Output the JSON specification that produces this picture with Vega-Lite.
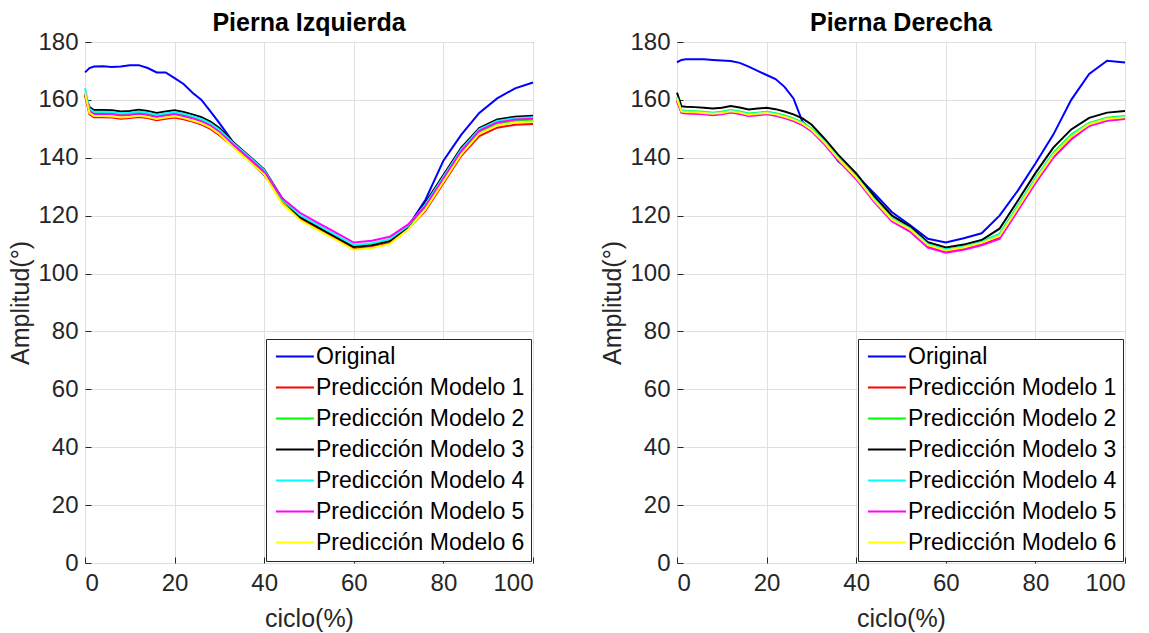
{
  "$schema": "https://vega.github.io/schema/vega-lite/v6.json",
  "background": "white",
  "padding": {"left": 8, "top": 10, "right": 0, "bottom": 0},
  "spacing": 62,
  "config": {
    "font": "Liberation Sans",
    "view": {"stroke": "#262626", "strokeWidth": 1},
    "axis": {
      "labelFont": "Liberation Sans", "labelFontSize": 24, "labelColor": "#262626",
      "titleFont": "Liberation Sans", "titleFontSize": 25, "titleFontWeight": "normal", "titleColor": "#262626",
      "domain": false, "gridColor": "#e0e0e0", "gridWidth": 1, "tickColor": "#262626", "tickSize": -6, "labelPadding": 16
    },
    "axisX": {"titlePadding": 11, "labelPadding": 14},
    "axisY": {"titlePadding": 4, "labelPadding": 13},
    "title": {"font": "Liberation Sans", "fontSize": 25, "fontWeight": "bold", "color": "#000000", "offset": -6, "anchor": "middle"},
    "legend": {
      "orient": "bottom-right", "offset": 2, "fillColor": "white", "strokeColor": "#262626", "padding": 6,
      "labelFont": "Liberation Sans", "labelFontSize": 23, "labelColor": "#000000", "labelOffset": 21, "labelLimit": 0,
      "symbolType": "M-0.8,0H3.2", "symbolSize": 361, "symbolStrokeWidth": 2, "rowPadding": 7, "cornerRadius": 0, "title": null
    }
  },
  "data": {"values": [
    {"p":"L","x":0,"Original":169.5,"Predicción Modelo 1":161.5,"Predicción Modelo 2":162,"Predicción Modelo 3":162,"Predicción Modelo 4":164,"Predicción Modelo 5":162.5,"Predicción Modelo 6":162.5},
    {"p":"L","x":1,"Original":171,"Predicción Modelo 1":155,"Predicción Modelo 2":156.5,"Predicción Modelo 3":157.5,"Predicción Modelo 4":156.9,"Predicción Modelo 5":156.1,"Predicción Modelo 6":155.4},
    {"p":"L","x":2,"Original":171.5,"Predicción Modelo 1":154,"Predicción Modelo 2":155.5,"Predicción Modelo 3":156.5,"Predicción Modelo 4":155.9,"Predicción Modelo 5":155.1,"Predicción Modelo 6":154.4},
    {"p":"L","x":4,"Original":171.6,"Predicción Modelo 1":154,"Predicción Modelo 2":155.5,"Predicción Modelo 3":156.5,"Predicción Modelo 4":155.9,"Predicción Modelo 5":155.1,"Predicción Modelo 6":154.4},
    {"p":"L","x":6,"Original":171.4,"Predicción Modelo 1":153.9,"Predicción Modelo 2":155.4,"Predicción Modelo 3":156.4,"Predicción Modelo 4":155.8,"Predicción Modelo 5":155,"Predicción Modelo 6":154.3},
    {"p":"L","x":8,"Original":171.5,"Predicción Modelo 1":153.5,"Predicción Modelo 2":155,"Predicción Modelo 3":156,"Predicción Modelo 4":155.4,"Predicción Modelo 5":154.6,"Predicción Modelo 6":153.9},
    {"p":"L","x":10,"Original":172,"Predicción Modelo 1":153.7,"Predicción Modelo 2":155.2,"Predicción Modelo 3":156.2,"Predicción Modelo 4":155.6,"Predicción Modelo 5":154.8,"Predicción Modelo 6":154.1},
    {"p":"L","x":12,"Original":172,"Predicción Modelo 1":154.1,"Predicción Modelo 2":155.6,"Predicción Modelo 3":156.6,"Predicción Modelo 4":156,"Predicción Modelo 5":155.2,"Predicción Modelo 6":154.5},
    {"p":"L","x":14,"Original":171,"Predicción Modelo 1":153.7,"Predicción Modelo 2":155.2,"Predicción Modelo 3":156.2,"Predicción Modelo 4":155.6,"Predicción Modelo 5":154.8,"Predicción Modelo 6":154.1},
    {"p":"L","x":16,"Original":169.5,"Predicción Modelo 1":153,"Predicción Modelo 2":154.5,"Predicción Modelo 3":155.5,"Predicción Modelo 4":154.9,"Predicción Modelo 5":154.1,"Predicción Modelo 6":153.4},
    {"p":"L","x":18,"Original":169.5,"Predicción Modelo 1":153.5,"Predicción Modelo 2":155,"Predicción Modelo 3":156,"Predicción Modelo 4":155.4,"Predicción Modelo 5":154.6,"Predicción Modelo 6":153.9},
    {"p":"L","x":20,"Original":167.5,"Predicción Modelo 1":153.9,"Predicción Modelo 2":155.4,"Predicción Modelo 3":156.4,"Predicción Modelo 4":155.8,"Predicción Modelo 5":155,"Predicción Modelo 6":154.3},
    {"p":"L","x":22,"Original":165.5,"Predicción Modelo 1":153.3,"Predicción Modelo 2":154.8,"Predicción Modelo 3":155.8,"Predicción Modelo 4":155.2,"Predicción Modelo 5":154.4,"Predicción Modelo 6":153.7},
    {"p":"L","x":24,"Original":162.5,"Predicción Modelo 1":152.5,"Predicción Modelo 2":154,"Predicción Modelo 3":155,"Predicción Modelo 4":154.4,"Predicción Modelo 5":153.6,"Predicción Modelo 6":152.9},
    {"p":"L","x":26,"Original":160,"Predicción Modelo 1":151.5,"Predicción Modelo 2":153,"Predicción Modelo 3":154,"Predicción Modelo 4":153.4,"Predicción Modelo 5":152.6,"Predicción Modelo 6":151.9},
    {"p":"L","x":28,"Original":156,"Predicción Modelo 1":150,"Predicción Modelo 2":151.5,"Predicción Modelo 3":152.5,"Predicción Modelo 4":151.9,"Predicción Modelo 5":151.1,"Predicción Modelo 6":150.4},
    {"p":"L","x":30,"Original":152,"Predicción Modelo 1":147.8,"Predicción Modelo 2":149.3,"Predicción Modelo 3":150.3,"Predicción Modelo 4":149.7,"Predicción Modelo 5":148.9,"Predicción Modelo 6":148.2},
    {"p":"L","x":33,"Original":145.5,"Predicción Modelo 1":144,"Predicción Modelo 2":144.9,"Predicción Modelo 3":145.5,"Predicción Modelo 4":145.2,"Predicción Modelo 5":144.7,"Predicción Modelo 6":143.7},
    {"p":"L","x":36,"Original":140,"Predicción Modelo 1":140,"Predicción Modelo 2":140.9,"Predicción Modelo 3":141.5,"Predicción Modelo 4":141.2,"Predicción Modelo 5":140.7,"Predicción Modelo 6":139.7},
    {"p":"L","x":40,"Original":134,"Predicción Modelo 1":134.5,"Predicción Modelo 2":135.4,"Predicción Modelo 3":136,"Predicción Modelo 4":135.7,"Predicción Modelo 5":135.2,"Predicción Modelo 6":134.2},
    {"p":"L","x":44,"Original":126,"Predicción Modelo 1":124.5,"Predicción Modelo 2":125.4,"Predicción Modelo 3":126,"Predicción Modelo 4":125.7,"Predicción Modelo 5":126,"Predicción Modelo 6":124.2},
    {"p":"L","x":48,"Original":119.5,"Predicción Modelo 1":118.9,"Predicción Modelo 2":119.8,"Predicción Modelo 3":119.5,"Predicción Modelo 4":120.2,"Predicción Modelo 5":121,"Predicción Modelo 6":118.5},
    {"p":"L","x":52,"Original":116,"Predicción Modelo 1":115.4,"Predicción Modelo 2":116.3,"Predicción Modelo 3":116,"Predicción Modelo 4":116.7,"Predicción Modelo 5":117.5,"Predicción Modelo 6":115},
    {"p":"L","x":56,"Original":112.5,"Predicción Modelo 1":112,"Predicción Modelo 2":112.9,"Predicción Modelo 3":112.6,"Predicción Modelo 4":113.3,"Predicción Modelo 5":114.1,"Predicción Modelo 6":111.6},
    {"p":"L","x":60,"Original":109.5,"Predicción Modelo 1":108.6,"Predicción Modelo 2":109.5,"Predicción Modelo 3":109.2,"Predicción Modelo 4":109.9,"Predicción Modelo 5":110.7,"Predicción Modelo 6":108.2},
    {"p":"L","x":64,"Original":110,"Predicción Modelo 1":109.2,"Predicción Modelo 2":110.1,"Predicción Modelo 3":109.8,"Predicción Modelo 4":110.5,"Predicción Modelo 5":111.3,"Predicción Modelo 6":108.8},
    {"p":"L","x":68,"Original":111.2,"Predicción Modelo 1":110.6,"Predicción Modelo 2":111.5,"Predicción Modelo 3":111.2,"Predicción Modelo 4":111.9,"Predicción Modelo 5":112.7,"Predicción Modelo 6":110.2},
    {"p":"L","x":72,"Original":116,"Predicción Modelo 1":115.2,"Predicción Modelo 2":116,"Predicción Modelo 3":116,"Predicción Modelo 4":116.3,"Predicción Modelo 5":116.8,"Predicción Modelo 6":115},
    {"p":"L","x":76,"Original":125.5,"Predicción Modelo 1":121.7,"Predicción Modelo 2":123,"Predicción Modelo 3":124.5,"Predicción Modelo 4":123.9,"Predicción Modelo 5":123.3,"Predicción Modelo 6":122.2},
    {"p":"L","x":80,"Original":139,"Predicción Modelo 1":131.2,"Predicción Modelo 2":132.5,"Predicción Modelo 3":134,"Predicción Modelo 4":133.4,"Predicción Modelo 5":132.8,"Predicción Modelo 6":131.7},
    {"p":"L","x":84,"Original":148,"Predicción Modelo 1":140.7,"Predicción Modelo 2":142,"Predicción Modelo 3":143.5,"Predicción Modelo 4":142.9,"Predicción Modelo 5":142.3,"Predicción Modelo 6":141.2},
    {"p":"L","x":88,"Original":155.5,"Predicción Modelo 1":147.5,"Predicción Modelo 2":148.8,"Predicción Modelo 3":150.3,"Predicción Modelo 4":149.8,"Predicción Modelo 5":149.3,"Predicción Modelo 6":148.3},
    {"p":"L","x":92,"Original":160.5,"Predicción Modelo 1":150.4,"Predicción Modelo 2":151.7,"Predicción Modelo 3":153.2,"Predicción Modelo 4":152.7,"Predicción Modelo 5":152.2,"Predicción Modelo 6":151.2},
    {"p":"L","x":96,"Original":164,"Predicción Modelo 1":151.4,"Predicción Modelo 2":152.7,"Predicción Modelo 3":154.2,"Predicción Modelo 4":153.7,"Predicción Modelo 5":153.2,"Predicción Modelo 6":152.2},
    {"p":"L","x":100,"Original":166,"Predicción Modelo 1":151.7,"Predicción Modelo 2":153,"Predicción Modelo 3":154.5,"Predicción Modelo 4":154,"Predicción Modelo 5":153.5,"Predicción Modelo 6":152.5},
    {"p":"R","x":0,"Original":173,"Predicción Modelo 1":160,"Predicción Modelo 2":161,"Predicción Modelo 3":162.5,"Predicción Modelo 4":161,"Predicción Modelo 5":159.5,"Predicción Modelo 6":160.5},
    {"p":"R","x":1,"Original":173.8,"Predicción Modelo 1":155.7,"Predicción Modelo 2":156.4,"Predicción Modelo 3":157.8,"Predicción Modelo 4":156.2,"Predicción Modelo 5":155.5,"Predicción Modelo 6":156},
    {"p":"R","x":2,"Original":174,"Predicción Modelo 1":155.5,"Predicción Modelo 2":156.2,"Predicción Modelo 3":157.6,"Predicción Modelo 4":156,"Predicción Modelo 5":155.3,"Predicción Modelo 6":155.8},
    {"p":"R","x":4,"Original":174,"Predicción Modelo 1":155.4,"Predicción Modelo 2":156.1,"Predicción Modelo 3":157.5,"Predicción Modelo 4":155.9,"Predicción Modelo 5":155.2,"Predicción Modelo 6":155.7},
    {"p":"R","x":6,"Original":174,"Predicción Modelo 1":155.2,"Predicción Modelo 2":155.9,"Predicción Modelo 3":157.3,"Predicción Modelo 4":155.7,"Predicción Modelo 5":155,"Predicción Modelo 6":155.5},
    {"p":"R","x":8,"Original":173.8,"Predicción Modelo 1":154.9,"Predicción Modelo 2":155.6,"Predicción Modelo 3":157,"Predicción Modelo 4":155.4,"Predicción Modelo 5":154.7,"Predicción Modelo 6":155.2},
    {"p":"R","x":10,"Original":173.6,"Predicción Modelo 1":155.2,"Predicción Modelo 2":155.9,"Predicción Modelo 3":157.3,"Predicción Modelo 4":155.7,"Predicción Modelo 5":155,"Predicción Modelo 6":155.5},
    {"p":"R","x":12,"Original":173.4,"Predicción Modelo 1":155.8,"Predicción Modelo 2":156.5,"Predicción Modelo 3":157.9,"Predicción Modelo 4":156.3,"Predicción Modelo 5":155.6,"Predicción Modelo 6":156.1},
    {"p":"R","x":14,"Original":172.8,"Predicción Modelo 1":155.3,"Predicción Modelo 2":156,"Predicción Modelo 3":157.4,"Predicción Modelo 4":155.8,"Predicción Modelo 5":155.1,"Predicción Modelo 6":155.6},
    {"p":"R","x":16,"Original":171.5,"Predicción Modelo 1":154.6,"Predicción Modelo 2":155.3,"Predicción Modelo 3":156.7,"Predicción Modelo 4":155.1,"Predicción Modelo 5":154.4,"Predicción Modelo 6":154.9},
    {"p":"R","x":18,"Original":170,"Predicción Modelo 1":154.9,"Predicción Modelo 2":155.6,"Predicción Modelo 3":157,"Predicción Modelo 4":155.4,"Predicción Modelo 5":154.7,"Predicción Modelo 6":155.2},
    {"p":"R","x":20,"Original":168.6,"Predicción Modelo 1":155.2,"Predicción Modelo 2":155.9,"Predicción Modelo 3":157.3,"Predicción Modelo 4":155.7,"Predicción Modelo 5":155,"Predicción Modelo 6":155.5},
    {"p":"R","x":22,"Original":167.2,"Predicción Modelo 1":154.7,"Predicción Modelo 2":155.4,"Predicción Modelo 3":156.8,"Predicción Modelo 4":155.2,"Predicción Modelo 5":154.5,"Predicción Modelo 6":155},
    {"p":"R","x":24,"Original":164.5,"Predicción Modelo 1":153.9,"Predicción Modelo 2":154.6,"Predicción Modelo 3":156,"Predicción Modelo 4":154.4,"Predicción Modelo 5":153.7,"Predicción Modelo 6":154.2},
    {"p":"R","x":26,"Original":160.5,"Predicción Modelo 1":152.9,"Predicción Modelo 2":153.6,"Predicción Modelo 3":155,"Predicción Modelo 4":153.4,"Predicción Modelo 5":152.7,"Predicción Modelo 6":153.2},
    {"p":"R","x":28,"Original":152.5,"Predicción Modelo 1":151.5,"Predicción Modelo 2":152.2,"Predicción Modelo 3":153.6,"Predicción Modelo 4":152,"Predicción Modelo 5":151.3,"Predicción Modelo 6":151.8},
    {"p":"R","x":30,"Original":149.5,"Predicción Modelo 1":149.4,"Predicción Modelo 2":150.1,"Predicción Modelo 3":151.5,"Predicción Modelo 4":149.9,"Predicción Modelo 5":149.2,"Predicción Modelo 6":149.7},
    {"p":"R","x":33,"Original":145.2,"Predicción Modelo 1":144.8,"Predicción Modelo 2":145.5,"Predicción Modelo 3":146.5,"Predicción Modelo 4":145.4,"Predicción Modelo 5":144.5,"Predicción Modelo 6":145.1},
    {"p":"R","x":36,"Original":138.8,"Predicción Modelo 1":139.3,"Predicción Modelo 2":140,"Predicción Modelo 3":141,"Predicción Modelo 4":139.9,"Predicción Modelo 5":139,"Predicción Modelo 6":139.6},
    {"p":"R","x":40,"Original":134,"Predicción Modelo 1":132.9,"Predicción Modelo 2":133.6,"Predicción Modelo 3":134.6,"Predicción Modelo 4":133.5,"Predicción Modelo 5":132.6,"Predicción Modelo 6":133.2},
    {"p":"R","x":44,"Original":127.8,"Predicción Modelo 1":125.1,"Predicción Modelo 2":125.8,"Predicción Modelo 3":126.8,"Predicción Modelo 4":125.7,"Predicción Modelo 5":124.8,"Predicción Modelo 6":125.4},
    {"p":"R","x":48,"Original":121.2,"Predicción Modelo 1":118.3,"Predicción Modelo 2":119,"Predicción Modelo 3":120,"Predicción Modelo 4":118.9,"Predicción Modelo 5":118,"Predicción Modelo 6":118.6},
    {"p":"R","x":52,"Original":116.8,"Predicción Modelo 1":114.8,"Predicción Modelo 2":115.8,"Predicción Modelo 3":116.3,"Predicción Modelo 4":115.6,"Predicción Modelo 5":114.5,"Predicción Modelo 6":115.3},
    {"p":"R","x":56,"Original":112,"Predicción Modelo 1":109.3,"Predicción Modelo 2":110.3,"Predicción Modelo 3":110.8,"Predicción Modelo 4":110.1,"Predicción Modelo 5":109,"Predicción Modelo 6":109.8},
    {"p":"R","x":60,"Original":110.7,"Predicción Modelo 1":107.5,"Predicción Modelo 2":108.5,"Predicción Modelo 3":109,"Predicción Modelo 4":108.3,"Predicción Modelo 5":107.2,"Predicción Modelo 6":108},
    {"p":"R","x":64,"Original":112.2,"Predicción Modelo 1":108.5,"Predicción Modelo 2":109.5,"Predicción Modelo 3":110,"Predicción Modelo 4":109.3,"Predicción Modelo 5":108.2,"Predicción Modelo 6":109},
    {"p":"R","x":68,"Original":113.9,"Predicción Modelo 1":110.1,"Predicción Modelo 2":111.1,"Predicción Modelo 3":111.6,"Predicción Modelo 4":110.9,"Predicción Modelo 5":109.8,"Predicción Modelo 6":110.6},
    {"p":"R","x":72,"Original":120,"Predicción Modelo 1":112.3,"Predicción Modelo 2":113.7,"Predicción Modelo 3":115.5,"Predicción Modelo 4":113.5,"Predicción Modelo 5":112,"Predicción Modelo 6":113},
    {"p":"R","x":76,"Original":128.5,"Predicción Modelo 1":121.8,"Predicción Modelo 2":123.2,"Predicción Modelo 3":125,"Predicción Modelo 4":123,"Predicción Modelo 5":121.5,"Predicción Modelo 6":122.5},
    {"p":"R","x":80,"Original":138,"Predicción Modelo 1":131.5,"Predicción Modelo 2":132.9,"Predicción Modelo 3":134.7,"Predicción Modelo 4":132.7,"Predicción Modelo 5":131.2,"Predicción Modelo 6":132.2},
    {"p":"R","x":84,"Original":148,"Predicción Modelo 1":140.3,"Predicción Modelo 2":141.7,"Predicción Modelo 3":143.5,"Predicción Modelo 4":141.5,"Predicción Modelo 5":140,"Predicción Modelo 6":141},
    {"p":"R","x":88,"Original":160,"Predicción Modelo 1":146.6,"Predicción Modelo 2":148,"Predicción Modelo 3":149.8,"Predicción Modelo 4":147.8,"Predicción Modelo 5":146.3,"Predicción Modelo 6":147.3},
    {"p":"R","x":92,"Original":169,"Predicción Modelo 1":151.2,"Predicción Modelo 2":152,"Predicción Modelo 3":153.8,"Predicción Modelo 4":151.8,"Predicción Modelo 5":151,"Predicción Modelo 6":151.6},
    {"p":"R","x":96,"Original":173.5,"Predicción Modelo 1":153,"Predicción Modelo 2":153.8,"Predicción Modelo 3":155.6,"Predicción Modelo 4":153.6,"Predicción Modelo 5":152.8,"Predicción Modelo 6":153.4},
    {"p":"R","x":100,"Original":172.9,"Predicción Modelo 1":153.6,"Predicción Modelo 2":154.4,"Predicción Modelo 3":156.2,"Predicción Modelo 4":154.2,"Predicción Modelo 5":153.4,"Predicción Modelo 6":154}
  ]},
  "resolve": {"legend": {"color": "independent"}, "scale": {"color": "independent"}},
  "hconcat": [
    {
      "width": 448, "height": 521,
      "title": "Pierna Izquierda",
      "transform": [
        {"filter": {"field": "p", "equal": "L"}},
        {"fold": ["Original","Predicción Modelo 1","Predicción Modelo 2","Predicción Modelo 3","Predicción Modelo 4","Predicción Modelo 5","Predicción Modelo 6"], "as": ["serie","y"]}
      ],
      "mark": {"type": "line", "strokeWidth": 2},
      "encoding": {
        "x": {"field": "x", "type": "quantitative", "scale": {"domain": [0,100], "nice": false}, "axis": {"values": [0,20,40,60,80,100], "title": "ciclo(%)"}},
        "y": {"field": "y", "type": "quantitative", "scale": {"domain": [0,180], "nice": false, "zero": false}, "axis": {"values": [0,20,40,60,80,100,120,140,160,180], "title": "Amplitud(°)"}},
        "color": {"field": "serie", "type": "nominal",
          "scale": {"domain": ["Original","Predicción Modelo 1","Predicción Modelo 2","Predicción Modelo 3","Predicción Modelo 4","Predicción Modelo 5","Predicción Modelo 6"],
                    "range": ["#0000ff","#ff0000","#00ff00","#000000","#00ffff","#ff00ff","#ffff00"]},
          "legend": {}}
      }
    },
    {
      "width": 448, "height": 521,
      "title": "Pierna Derecha",
      "transform": [
        {"filter": {"field": "p", "equal": "R"}},
        {"fold": ["Original","Predicción Modelo 1","Predicción Modelo 2","Predicción Modelo 3","Predicción Modelo 4","Predicción Modelo 5","Predicción Modelo 6"], "as": ["serie","y"]}
      ],
      "mark": {"type": "line", "strokeWidth": 2},
      "encoding": {
        "x": {"field": "x", "type": "quantitative", "scale": {"domain": [0,100], "nice": false}, "axis": {"values": [0,20,40,60,80,100], "title": "ciclo(%)"}},
        "y": {"field": "y", "type": "quantitative", "scale": {"domain": [0,180], "nice": false, "zero": false}, "axis": {"values": [0,20,40,60,80,100,120,140,160,180], "title": "Amplitud(°)"}},
        "color": {"field": "serie", "type": "nominal",
          "scale": {"domain": ["Original","Predicción Modelo 1","Predicción Modelo 2","Predicción Modelo 3","Predicción Modelo 4","Predicción Modelo 5","Predicción Modelo 6"],
                    "range": ["#0000ff","#ff0000","#00ff00","#000000","#00ffff","#ff00ff","#ffff00"]},
          "legend": {}}
      }
    }
  ]
}
